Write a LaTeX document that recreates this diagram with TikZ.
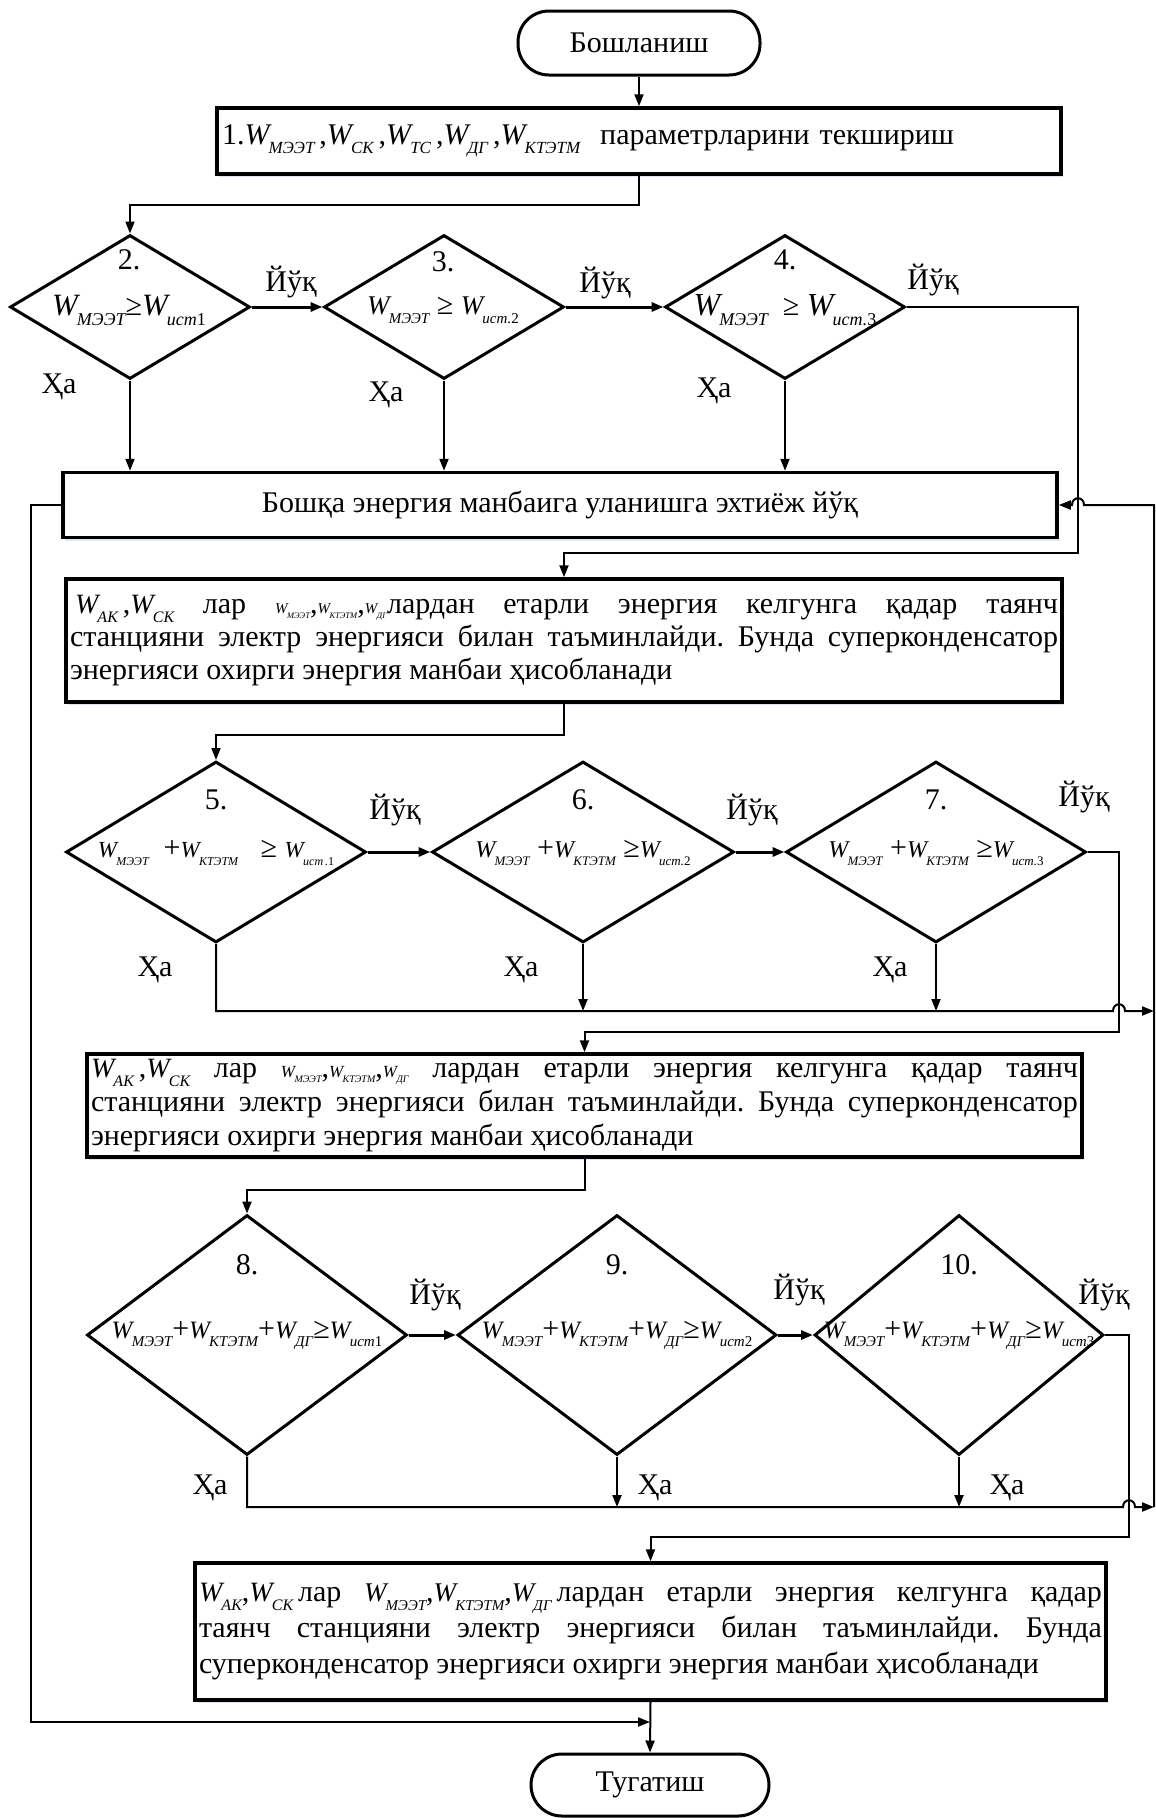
\documentclass[tikz,border=0pt]{standalone}
\usepackage{fontspec}
\setmainfont{Liberation Serif}
\usetikzlibrary{shapes.geometric,arrows.meta,shadows}
\frenchspacing
\newcommand\Wsub[3]{{\fontsize{#1}{#1}\selectfont\itshape W\kern-0.03em\raisebox{-0.32em}{\fontsize{#2}{#2}\selectfont\itshape #3}}}
\tikzset{
  box/.style={draw, line width=3.5pt, fill=white, inner xsep=4pt, inner ysep=3pt,
    drop shadow={shadow xshift=1.5pt, shadow yshift=-3pt, fill={rgb,255:red,200;green,214;blue,236}, opacity=0.6}},
  dia/.style={draw, diamond, line width=3pt, inner sep=0pt, fill=white},
  term/.style={draw, line width=3pt, rounded corners=31pt, minimum width=242pt, minimum height=64pt, fill=white},
  conn/.style={line width=2pt},
  arr/.style={conn, -{Triangle[length=12pt,width=9pt]}},
  harr/.style={line width=3pt, -{Triangle[length=12pt,width=9pt]}},
  lbl/.style={inner sep=0pt},
}
\begin{document}
\begin{tikzpicture}[x=1pt,y=-1pt,every node/.style={font=\fontsize{30}{34}\selectfont}]
\useasboundingbox (0,0) rectangle (1156,1818);

% terminals and boxes
\node[term] (start) at (639,43) {Бошланиш};
\node[box, minimum width=844pt, minimum height=66pt, text width=834pt, align=left] (b1) at (639,141)
 {1.\Wsub{30}{17}{МЭЭТ}\,,\Wsub{30}{17}{СК}\,,\Wsub{30}{17}{ТС}\,,\Wsub{30}{17}{ДГ}\,,\Wsub{30}{17}{КТЭТМ}~ параметрларини текшириш};

\node[dia, minimum width=240pt, minimum height=144pt] (d2) at (130,307) {};
\node[dia, minimum width=240pt, minimum height=144pt] (d3) at (444,307) {};
\node[dia, minimum width=240pt, minimum height=144pt] (d4) at (785,307) {};

\node[box, minimum width=994pt, minimum height=65pt] (b2) at (560,505) {Бошқа энергия манбаига уланишга эхтиёж йўқ};

\node[box, minimum width=996pt, minimum height=123pt, text width=988pt, align=justify,
  font=\fontsize{30}{33}\selectfont] (b3) at (564,640.5)
 {\hspace*{5pt}\Wsub{28}{16}{АК}\,,\Wsub{28}{16}{СК} лар \Wsub{15}{8.5}{МЭЭТ},\Wsub{15}{8.5}{КТЭТМ},\Wsub{15}{8.5}{ДГ}лардан етарли энергия келгунга қадар таянч\linebreak
 станцияни электр энергияси билан таъминлайди. Бунда суперконденсатор\linebreak
 энергияси охирги энергия манбаи ҳисобланади};

\node[dia, minimum width=300pt, minimum height=181pt] (d5) at (216,852) {};
\node[dia, minimum width=302pt, minimum height=181pt] (d6) at (583,852) {};
\node[dia, minimum width=300pt, minimum height=181pt] (d7) at (936,852) {};

\node[box, minimum width=995pt, minimum height=103pt, text width=987pt, align=justify,
  font=\fontsize{30}{34}\selectfont] (b4) at (584.5,1105.5)
 {\Wsub{28}{16}{АК}\,,\Wsub{28}{16}{СК} лар \Wsub{17}{10}{МЭЭТ},\Wsub{17}{10}{КТЭТМ},\Wsub{17}{10}{ДГ} лардан етарли энергия келгунга қадар таянч\linebreak
 станцияни электр энергияси билан таъминлайди. Бунда суперконденсатор\linebreak
 энергияси охирги энергия манбаи ҳисобланади};

\node[dia, minimum width=320pt, minimum height=240pt] (d8) at (247,1335) {};
\node[dia, minimum width=319pt, minimum height=240pt] (d9) at (617,1335) {};
\node[dia, minimum width=289pt, minimum height=240pt] (d10) at (959,1335) {};

\node[box, minimum width=911pt, minimum height=137pt, text width=903pt, align=justify,
  font=\fontsize{30}{36}\selectfont] (b5) at (650.5,1631.5)
 {\Wsub{28}{16}{АК},\Wsub{28}{16}{СК}\,лар \Wsub{27}{15}{МЭЭТ},\Wsub{27}{15}{КТЭТМ},\Wsub{27}{15}{ДГ}\,лардан етарли энергия келгунга қадар\linebreak
 таянч станцияни электр энергияси билан таъминлайди. Бунда\linebreak
 суперконденсатор энергияси охирги энергия манбаи ҳисобланади};

\node[term, minimum width=238pt, minimum height=62pt] (end) at (650,1785) {Тугатиш};

% diamond texts
\node[lbl] (n2) at (129,260) {2.};
\node[lbl] (f2) at (129,310) {\Wsub{31}{18}{МЭЭТ}≥\Wsub{31}{18}{ист\upshape 1}};
\node[lbl] (n3) at (443,262) {3.};
\node[lbl] (f3) at (443,310) {\Wsub{27}{15}{МЭЭТ} ≥ \Wsub{27}{15}{ист.\upshape 2}};
\node[lbl] (n4) at (785,260) {4.};
\node[lbl] (f4) at (785,310) {\Wsub{32}{18}{МЭЭТ} ~≥ \Wsub{32}{18}{ист.\upshape 3}};

\node[lbl] (n5) at (216,800) {5.};
\node[lbl] (f5) at (216,853) {\Wsub{23}{12}{МЭЭТ} ~+\Wsub{23}{12}{КТЭТМ} ~ ≥ \Wsub{23}{12}{ист\,.\upshape 1}};
\node[lbl] (n6) at (583,800) {6.};
\node[lbl] (f6) at (583,853) {\Wsub{24}{13}{МЭЭТ} +\Wsub{24}{13}{КТЭТМ} ≥\Wsub{24}{13}{ист.\upshape 2}};
\node[lbl] (n7) at (936,800) {7.};
\node[lbl] (f7) at (936,853) {\Wsub{24}{13}{МЭЭТ} +\Wsub{24}{13}{КТЭТМ} ≥\Wsub{24}{13}{ист.\upshape 3}};

\node[lbl] (n8) at (247,1265) {8.};
\node[lbl] (f8) at (247,1335) {\Wsub{25}{15}{МЭЭТ}+\Wsub{25}{15}{КТЭТМ}+\Wsub{25}{15}{ДГ}≥\Wsub{25}{15}{ист\upshape 1}};
\node[lbl] (n9) at (617,1265) {9.};
\node[lbl] (f9) at (617,1335) {\Wsub{25}{15}{МЭЭТ}+\Wsub{25}{15}{КТЭТМ}+\Wsub{25}{15}{ДГ}≥\Wsub{25}{15}{ист\upshape 2}};
\node[lbl] (n10) at (959,1265) {10.};
\node[lbl] (f10) at (959,1335) {\Wsub{25}{15}{МЭЭТ}+\Wsub{25}{15}{КТЭТМ}+\Wsub{25}{15}{ДГ}≥\Wsub{25}{15}{ист\upshape 3}};

% yes / no labels
\node[lbl] (y2) at (291,282) {Йўқ};
\node[lbl] (y3) at (605,283) {Йўқ};
\node[lbl] (y4) at (933,280) {Йўқ};
\node[lbl] (h2) at (59,387) {Ҳа};
\node[lbl] (h3) at (386,395) {Ҳа};
\node[lbl] (h4) at (714,391) {Ҳа};

\node[lbl] (y5) at (395,810) {Йўқ};
\node[lbl] (y6) at (752,810) {Йўқ};
\node[lbl] (y7) at (1084,797) {Йўқ};
\node[lbl] (h5) at (155,970) {Ҳа};
\node[lbl] (h6) at (521,970) {Ҳа};
\node[lbl] (h7) at (890,970) {Ҳа};

\node[lbl] (y8) at (435,1295) {Йўқ};
\node[lbl] (y9) at (799,1290) {Йўқ};
\node[lbl] (y10) at (1104,1295) {Йўқ};
\node[lbl] (h8) at (210,1488) {Ҳа};
\node[lbl] (h9) at (655,1488) {Ҳа};
\node[lbl] (h10) at (1007,1488) {Ҳа};

% junction coordinates
\coordinate (rj1) at (1154,1011);
\coordinate (rj2) at (1154,1507);
\coordinate (lj) at (650,1722);

% connectors
\draw[arr] (start.south) -- (b1.north);
\draw[arr] (b1.south) -- ++(0,29) -| (d2.north);
\draw[harr] (d2.east) -- (d3.west);
\draw[harr] (d3.east) -- (d4.west);
\draw[arr] (d2.south) -- (d2.south |- b2.north);
\draw[arr] (d3.south) -- (d3.south |- b2.north);
\draw[arr] (d4.south) -- (d4.south |- b2.north);
\draw[arr] (d4.east) -- (1078,307) -- (1078,553) -| (b3.north);
\draw[arr] (b3.south) -- ++(0,31) -| (d5.north);

\draw[harr] (d5.east) -- (d6.west);
\draw[harr] (d6.east) -- (d7.west);
\draw[arr] (d5.south) |- (1113,1011) .. controls (1113,1002) and (1125,1002) .. (1125,1011) -- (rj1);
\draw[arr] (d6.south) -- (d6.south |- rj1);
\draw[arr] (d7.south) -- (d7.south |- rj1);
\draw[arr] (d7.east) -- (1119,852) -- (1119,1032) -| (b4.north);
\draw[arr] (b4.south) -- ++(0,31) -| (d8.north);

\draw[harr] (d8.east) -- (d9.west);
\draw[harr] (d9.east) -- (d10.west);
\draw[arr] (d8.south) |- (1123,1507) .. controls (1123,1498) and (1135,1498) .. (1135,1507) -- (rj2);
\draw[arr] (d9.south) -- (d9.south |- rj2);
\draw[arr] (d10.south) -- (d10.south |- rj2);
\draw[arr] (d10.east) -- (1129,1335) -- (1129,1537) -| (b5.north);
\draw[arr] (b5.south) -- (end.north);

\draw[arr] (rj2) -- (1154,505) -- (1084,505) .. controls (1084,496) and (1072,496) .. (1072,505) -- (b2.east);
\draw[arr] (b2.west) -- (31,505) -- (31,1722) -- (lj);
\end{tikzpicture}
\end{document}
